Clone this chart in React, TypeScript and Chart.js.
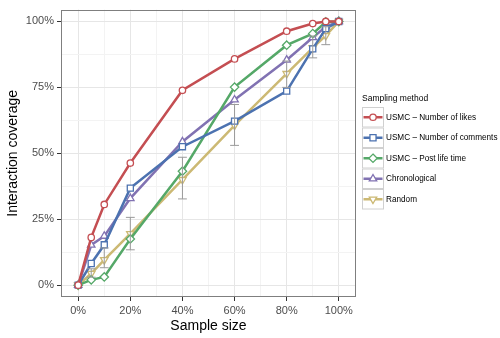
import React, { useEffect, useRef } from "react";
import { Chart, registerables } from "chart.js";

Chart.register(...registerables);

const sampleSizes = [0, 5, 10, 20, 40, 60, 80, 90, 95, 100];
const likes = [0, 18.1, 30.6, 46.3, 73.9, 85.8, 96.3, 99.2, 100, 100];
const comments = [0, 8.2, 15.3, 36.8, 52.5, 62.2, 73.6, 89.6, 97.3, 100];
const postLife = [0, 2.0, 3.1, 17.5, 43.2, 75.1, 91.0, 95.4, 99.8, 100];
const chrono = [0, 15.2, 18.6, 32.9, 54.4, 70.3, 85.4, 93.9, 98.0, 100];
const random = [0, 4.4, 9.6, 19.5, 40.0, 60.6, 80.2, 90.0, 94.6, 100];
const randomLow = [0, 3.0, 6.6, 13.4, 32.7, 53.0, 75.0, 86.2, 91.2, 100];
const randomHigh = [0, 6.2, 14.1, 25.7, 48.5, 68.5, 85.0, 94.5, 98.0, 100];

const seriesNames = [
  "USMC – Number of likes",
  "USMC – Number of comments",
  "USMC – Post life time",
  "Chronological",
  "Random",
];
const seriesColors = ["#C44E52", "#4C72B0", "#55A868", "#8172B2", "#CCB974"];
const seriesValues = [likes, comments, postLife, chrono, random];
const seriesShapes = ["circle", "rect", "rectRot", "triangle", "triangle"];
const seriesRotation = [0, 0, 0, 0, 180];
const seriesRadius = [3.2, 4.3, 4.2, 4.3, 4.3];

const xTicks = [0, 10, 20, 30, 40, 50, 60, 70, 80, 90, 100];
const yTicks = [0, 12.5, 25, 37.5, 50, 62.5, 75, 87.5, 100];
const legendTitle = "Sampling method";
const xTitle = "Sample size";
const yTitle = "Interaction coverage";

const errorBarPlugin = {
  id: "errbars",
  afterDatasetsDraw(chart: any) {
    const { ctx, scales } = chart;
    const xs = scales.x;
    const ys = scales.y;
    ctx.save();
    ctx.strokeStyle = "#9a9a9a";
    ctx.lineWidth = 1;
    sampleSizes.forEach((x, i) => {
      if (randomHigh[i] - randomLow[i] <= 0) return;
      const px = xs.getPixelForValue(x);
      const pl = xs.getPixelForValue(x - 1.7);
      const pr = xs.getPixelForValue(x + 1.7);
      const y1 = ys.getPixelForValue(randomLow[i]);
      const y2 = ys.getPixelForValue(randomHigh[i]);
      ctx.beginPath();
      ctx.moveTo(px, y1);
      ctx.lineTo(px, y2);
      ctx.moveTo(pl, y1);
      ctx.lineTo(pr, y1);
      ctx.moveTo(pl, y2);
      ctx.lineTo(pr, y2);
      ctx.stroke();
    });
    ctx.restore();
  },
};

function drawMarker(ctx: CanvasRenderingContext2D, shape: string, r: number, rot: number, x: number, y: number) {
  ctx.beginPath();
  if (shape === "circle") {
    ctx.arc(x, y, r, 0, Math.PI * 2);
  } else if (shape === "rect") {
    const h = r / Math.SQRT2;
    ctx.rect(x - h, y - h, 2 * h, 2 * h);
  } else if (shape === "rectRot") {
    ctx.moveTo(x, y - r);
    ctx.lineTo(x + r, y);
    ctx.lineTo(x, y + r);
    ctx.lineTo(x - r, y);
    ctx.closePath();
  } else {
    const a = (rot * Math.PI) / 180;
    for (let k = 0; k < 3; k++) {
      const ang = a - Math.PI / 2 + (k * 2 * Math.PI) / 3;
      const px = x + Math.cos(ang) * r;
      const py = y + Math.sin(ang) * r;
      if (k === 0) ctx.moveTo(px, py);
      else ctx.lineTo(px, py);
    }
    ctx.closePath();
  }
  ctx.fill();
  ctx.stroke();
}

const frameLegendPlugin = {
  id: "frameLegend",
  afterDraw(chart: any) {
    const { ctx, chartArea } = chart;
    ctx.save();
    ctx.strokeStyle = "#7f7f7f";
    ctx.lineWidth = 1;
    ctx.strokeRect(
      Math.round(chartArea.left) + 0.5,
      Math.round(chartArea.top) + 0.5,
      Math.round(chartArea.right - chartArea.left) - 1,
      Math.round(chartArea.bottom - chartArea.top) - 1
    );
    const lx = 362;
    const top = 107;
    const kw = 22;
    const kh = 20.5;
    ctx.fillStyle = "#000";
    ctx.font = "8.5px 'Liberation Sans', Arial, sans-serif";
    ctx.textBaseline = "middle";
    ctx.textAlign = "left";
    ctx.fillText(legendTitle, lx, 99);
    seriesNames.forEach((name, i) => {
      const y = top + i * kh;
      ctx.fillStyle = "#ffffff";
      ctx.fillRect(lx, y, kw, kh);
      ctx.strokeStyle = "#d0d0d0";
      ctx.lineWidth = 1;
      ctx.strokeRect(lx + 0.5, y + 0.5, kw - 1, kh - 1);
      const cy = y + kh / 2;
      ctx.strokeStyle = seriesColors[i];
      ctx.lineWidth = 2.5;
      ctx.beginPath();
      ctx.moveTo(lx + 1.5, cy);
      ctx.lineTo(lx + kw - 1.5, cy);
      ctx.stroke();
      ctx.strokeStyle = seriesColors[i];
      ctx.fillStyle = "#ffffff";
      ctx.lineWidth = 1.3;
      drawMarker(ctx, seriesShapes[i], seriesRadius[i], seriesRotation[i], lx + kw / 2, cy);
      ctx.fillStyle = "#000";
      ctx.font = "8.2px 'Liberation Sans', Arial, sans-serif";
      ctx.fillText(name, lx + kw + 2, cy);
    });
    ctx.restore();
  },
};

export default function App() {
  const ref = useRef<HTMLCanvasElement | null>(null);
  useEffect(() => {
    document.body.style.margin = "0";
    const canvas = ref.current;
    if (!canvas) return;
    const datasets = seriesNames.map((name, i) => ({
      label: name,
      data: sampleSizes.map((x, j) => ({ x, y: seriesValues[i][j] })),
      borderColor: seriesColors[i],
      backgroundColor: "#ffffff",
      borderWidth: 2.5,
      pointStyle: seriesShapes[i],
      pointRotation: seriesRotation[i],
      pointRadius: seriesRadius[i],
      pointBorderWidth: 1.3,
      pointBorderColor: seriesColors[i],
      pointBackgroundColor: "#ffffff",
      tension: 0,
    }));
    const font = "'Liberation Sans', Arial, sans-serif";
    const chart = new Chart(canvas, {
      type: "line",
      data: { datasets } as any,
      options: {
        animation: false,
        responsive: false,
        layout: { padding: { left: 0, top: 4, right: 144, bottom: 0 } },
        plugins: { legend: { display: false }, tooltip: { enabled: false } },
        scales: {
          x: {
            type: "linear",
            min: -6.6,
            max: 106.6,
            afterBuildTicks: (s: any) => {
              s.ticks = xTicks.map((v) => ({ value: v }));
            },
            afterFit: (s: any) => {
              s.height = 41;
            },
            border: { display: false },
            grid: {
              color: (c: any) => (c.tick && c.tick.value % 20 === 0 ? "#e6e6e6" : "#f3f3f3"),
              lineWidth: 1,
              tickLength: 4,
              tickColor: (c: any) => (c.tick && c.tick.value % 20 === 0 ? "#333333" : "rgba(0,0,0,0)"),
            },
            ticks: {
              autoSkip: false,
              maxRotation: 0,
              padding: 3,
              color: "#4d4d4d",
              font: { family: font, size: 11 },
              callback: (v: any) => (v % 20 === 0 ? v + "%" : ""),
            },
            title: {
              display: true,
              text: xTitle,
              color: "#000",
              font: { family: font, size: 14 },
              padding: { top: 0, bottom: 3 },
            },
          },
          y: {
            type: "linear",
            min: -4.5,
            max: 104.5,
            afterBuildTicks: (s: any) => {
              s.ticks = yTicks.map((v) => ({ value: v }));
            },
            afterFit: (s: any) => {
              s.width = 61;
            },
            border: { display: false },
            grid: {
              color: (c: any) => (c.tick && c.tick.value % 25 === 0 ? "#e6e6e6" : "#f3f3f3"),
              lineWidth: 1,
              tickLength: 4,
              tickColor: (c: any) => (c.tick && c.tick.value % 25 === 0 ? "#333333" : "rgba(0,0,0,0)"),
            },
            ticks: {
              autoSkip: false,
              padding: 3,
              color: "#4d4d4d",
              font: { family: font, size: 11 },
              callback: (v: any) => (v % 25 === 0 ? v + "%" : ""),
            },
            title: {
              display: true,
              text: yTitle,
              color: "#000",
              font: { family: font, size: 14 },
              padding: { top: 5, bottom: 0 },
            },
          },
        },
      } as any,
      plugins: [errorBarPlugin, frameLegendPlugin],
    });
    return () => chart.destroy();
  }, []);
  return (
    <div style={{ width: 500, height: 338, background: "#fff" }}>
      <canvas ref={ref} width={500} height={338} style={{ display: "block" }} />
    </div>
  );
}
